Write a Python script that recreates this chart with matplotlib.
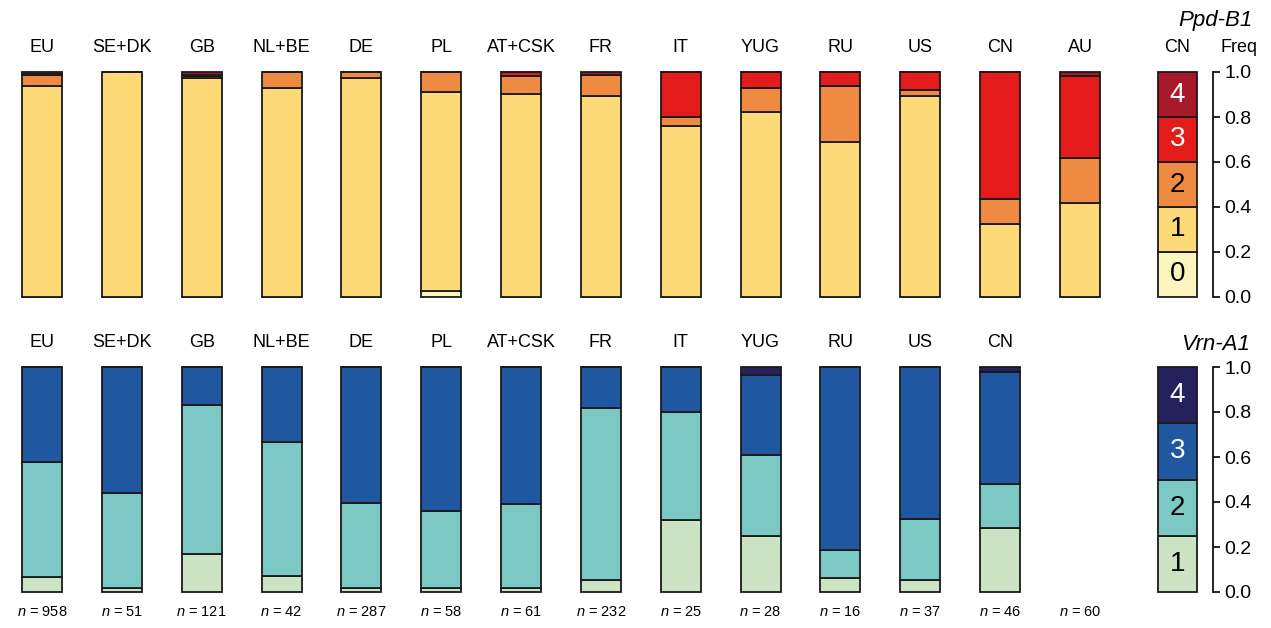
import matplotlib
matplotlib.use("Agg")
import matplotlib.pyplot as plt
import numpy as np

plt.rcParams['font.family'] = ['Liberation Sans', 'DejaVu Sans']
plt.rcParams['mathtext.fontset'] = 'custom'
plt.rcParams['mathtext.it'] = 'Liberation Sans:italic'
plt.rcParams['mathtext.rm'] = 'Liberation Sans'

# ---- data ----
regions = ['EU', 'SE+DK', 'GB', 'NL+BE', 'DE', 'PL', 'AT+CSK', 'FR', 'IT', 'YUG', 'RU', 'US', 'CN', 'AU']
regions_vrn = regions[:13]
n_sizes = [958, 51, 121, 42, 287, 58, 61, 232, 25, 28, 16, 37, 46, 60]

# Ppd-B1 copy number frequencies (CN 0..4)
ppd_cn0 = [0, 0, 0, 0, 0, 0.027, 0, 0, 0, 0, 0, 0, 0, 0]
ppd_cn1 = [0.936, 1.0, 0.972, 0.929, 0.973, 0.884, 0.902, 0.893, 0.76, 0.821, 0.6875, 0.892, 0.326, 0.417]
ppd_cn2 = [0.052, 0, 0.012, 0.071, 0.027, 0.089, 0.082, 0.095, 0.04, 0.107, 0.25, 0.027, 0.109, 0.2]
ppd_cn3 = [0.002, 0, 0.004, 0, 0, 0, 0.016, 0, 0.2, 0.072, 0.0625, 0.081, 0.565, 0.366]
ppd_cn4 = [0.01, 0, 0.012, 0, 0, 0, 0, 0.012, 0, 0, 0, 0, 0, 0.017]

# Vrn-A1 copy number frequencies (CN 1..4)
vrn_cn1 = [0.065, 0.02, 0.17, 0.071, 0.017, 0.017, 0.016, 0.053, 0.32, 0.25, 0.0625, 0.054, 0.283]
vrn_cn2 = [0.513, 0.42, 0.66, 0.595, 0.379, 0.343, 0.377, 0.765, 0.48, 0.357, 0.125, 0.27, 0.195]
vrn_cn3 = [0.422, 0.56, 0.17, 0.334, 0.604, 0.64, 0.607, 0.182, 0.2, 0.357, 0.8125, 0.676, 0.5]
vrn_cn4 = [0, 0, 0, 0, 0, 0, 0, 0, 0, 0.036, 0, 0, 0.022]

ppd_colors = ['#fbf5c0', '#fdd978', '#ef8a42', '#e31b1b', '#a8192a']
vrn_colors = ['#cde4c4', '#7bc8c4', '#1f57a0', '#25215e']
ppd_labels = ['0', '1', '2', '3', '4']
vrn_labels = ['1', '2', '3', '4']

W, H = 1271, 628
fig = plt.figure(figsize=(W / 100, H / 100), dpi=100)


def stacked(ax, segs, colors, names, width=0.5):
    x = np.arange(len(names))
    bottom = np.zeros(len(names))
    for vals, c in zip(segs, colors):
        vals = np.array(vals, dtype=float)
        ax.bar(x, vals, width=width, bottom=bottom, color=c, edgecolor='#1a1a1a',
               linewidth=1.3, clip_on=False)
        bottom += vals
    ax.set_xlim(-0.5, 13.5)
    ax.set_ylim(0, 1)
    ax.axis('off')
    for i, name in enumerate(names):
        ax.text(i, 1.07, name, ha='center', va='bottom', fontsize=13)


def legend_box(ax, colors, labels, title, title_y, show_header):
    k = len(colors)
    step = 1.0 / k
    for j, (c, lab) in enumerate(zip(colors, labels)):
        ax.bar(0.5, step, width=1.0, bottom=j * step, color=c, edgecolor='#1a1a1a',
               linewidth=1.3, clip_on=False)
        tc = 'white' if j >= k - 2 else 'black'
        ax.text(0.5, (j + 0.5) * step, lab, ha='center', va='center', fontsize=20, color=tc)
    ax.set_xlim(0, 1)
    ax.set_ylim(0, 1)
    for s in ['left', 'top', 'bottom']:
        ax.spines[s].set_visible(False)
    ax.spines['right'].set_position(('outward', 11.5))
    ax.spines['right'].set_linewidth(1.2)
    ax.yaxis.tick_right()
    ax.set_yticks([0, 0.2, 0.4, 0.6, 0.8, 1.0])
    ax.set_yticklabels(['0.0', '0.2', '0.4', '0.6', '0.8', '1.0'], fontsize=14)
    ax.tick_params(axis='y', direction='out', length=5, width=1.2, pad=3)
    ax.set_xticks([])
    ax.text(1.47, title_y, title, transform=ax.transAxes,
            ha='center', va='center', fontsize=16, style='italic')
    if show_header:
        ax.text(0.5, 1.07, 'CN', transform=ax.transAxes, ha='center', va='bottom', fontsize=13)
        ax.text(2.07, 1.07, 'Freq', transform=ax.transAxes, ha='center', va='bottom', fontsize=13)


ax_h = 225 / H
left = 2.1 / W
width = 1117.8 / W

ax_top = fig.add_axes([left, (H - 297) / H, width, ax_h])
stacked(ax_top, [ppd_cn0, ppd_cn1, ppd_cn2, ppd_cn3, ppd_cn4], ppd_colors, regions)

ax_bot = fig.add_axes([left, (H - 592) / H, width, ax_h])
stacked(ax_bot, [vrn_cn1, vrn_cn2, vrn_cn3, vrn_cn4], vrn_colors, regions_vrn)
for i, n in enumerate(n_sizes):
    ax_bot.text(i, -0.06, f'$n$ = {n}', ha='center', va='top', fontsize=10.5)

leg_top = fig.add_axes([1158 / W, (H - 297) / H, 39 / W, ax_h])
legend_box(leg_top, ppd_colors, ppd_labels, 'Ppd-B1', 1.23, True)

leg_bot = fig.add_axes([1158 / W, (H - 592) / H, 39 / W, ax_h])
legend_box(leg_bot, vrn_colors, vrn_labels, 'Vrn-A1', 1.1, False)

fig.savefig('out.png', dpi=100)
